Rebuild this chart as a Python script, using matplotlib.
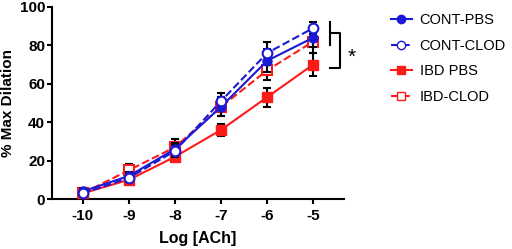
import matplotlib.pyplot as plt
from matplotlib.lines import Line2D

plt.rcParams['font.family'] = ['Liberation Sans', 'DejaVu Sans']
plt.rcParams['axes.unicode_minus'] = False

# log [ACh] doses
doses = [-10, -9, -8, -7, -6, -5]

cont_pbs = [4, 12, 26, 48, 72, 84]
cont_pbs_err = [1.5, 2, 3, 5, 6, 5]
cont_clod = [3, 11, 25, 51, 76, 89]
cont_clod_err = [1.5, 2, 3, 4, 6, 3]
ibd_pbs = [3, 10, 22, 36, 53, 70]
ibd_pbs_err = [1.5, 2, 2, 3, 5, 6]
ibd_clod = [3, 15, 27, 48, 67, 82]
ibd_clod_err = [1.5, 3, 4, 5, 5, 6]

blue = '#1a1ad6'
red = '#ff1a1a'

fig = plt.figure(figsize=(5.12, 2.49), dpi=100)
ax = fig.add_axes([52/512, 50/249, (344-52)/512, 192/249])

ax.errorbar(doses, ibd_pbs, yerr=ibd_pbs_err, color=red, marker='s', ms=6.5,
            lw=1.5, ecolor='black', elinewidth=1.5, capsize=3, capthick=1.5, zorder=3)
ax.errorbar(doses, ibd_clod, yerr=ibd_clod_err, color=red, marker='s', ms=7, mfc='white',
            mew=1.5, ls='--', lw=1.5, ecolor='black', elinewidth=1.5, capsize=3, capthick=1.5, zorder=3)
ax.errorbar(doses, cont_pbs, yerr=cont_pbs_err, color=blue, marker='o', ms=6.5,
            lw=1.5, ecolor='black', elinewidth=1.5, capsize=3, capthick=1.5, zorder=4)
ax.errorbar(doses, cont_clod, yerr=cont_clod_err, color=blue, marker='o', ms=7, mfc='white',
            mew=1.5, ls='--', lw=1.5, ecolor='black', elinewidth=1.5, capsize=3, capthick=1.5, zorder=4)

ax.set_xlim(-10.67, -4.33)
ax.set_ylim(0, 100)
ax.set_xticks(doses)
ax.set_yticks([0, 20, 40, 60, 80, 100])
for s in ['top', 'right']:
    ax.spines[s].set_visible(False)
for s in ['left', 'bottom']:
    ax.spines[s].set_linewidth(1.5)
ax.tick_params(width=1.5, length=3.5, labelsize=11)
ax.tick_params(axis='y', pad=1.5)
for lab in ax.get_xticklabels() + ax.get_yticklabels():
    lab.set_fontweight('bold')
ax.set_xlabel('Log [ACh]', fontsize=11.5, fontweight='bold', labelpad=6)
ax.set_ylabel('% Max Dilation', fontsize=11, fontweight='bold', labelpad=3)

# significance bracket
bx = [-4.63, -4.41]
ax.plot([bx[0], bx[0]], [92, 80], color='black', lw=1.5, clip_on=False)
ax.plot([bx[0], bx[1], bx[1], bx[0]], [86.5, 86.5, 68, 68], color='black', lw=1.5, clip_on=False)
ax.text(-4.17, 74, '*', fontsize=15, ha='center', va='center')

handles = [
    Line2D([], [], color=blue, marker='o', ms=6, lw=1.5),
    Line2D([], [], color=blue, marker='o', ms=6, mfc='white', ls='--', lw=1.5),
    Line2D([], [], color=red, marker='s', ms=6, lw=1.5),
    Line2D([], [], color=red, marker='s', ms=6, mfc='white', ls='--', lw=1.5),
]
labels = ['CONT-PBS', 'CONT-CLOD', 'IBD PBS', 'IBD-CLOD']
fig.legend(handles, labels, loc='upper left', bbox_to_anchor=(378/512, 1),
           frameon=False, fontsize=10.5, handlelength=1.4, handletextpad=0.55,
           labelspacing=0.8, borderpad=0.4)

fig.savefig('out.png', dpi=100)
